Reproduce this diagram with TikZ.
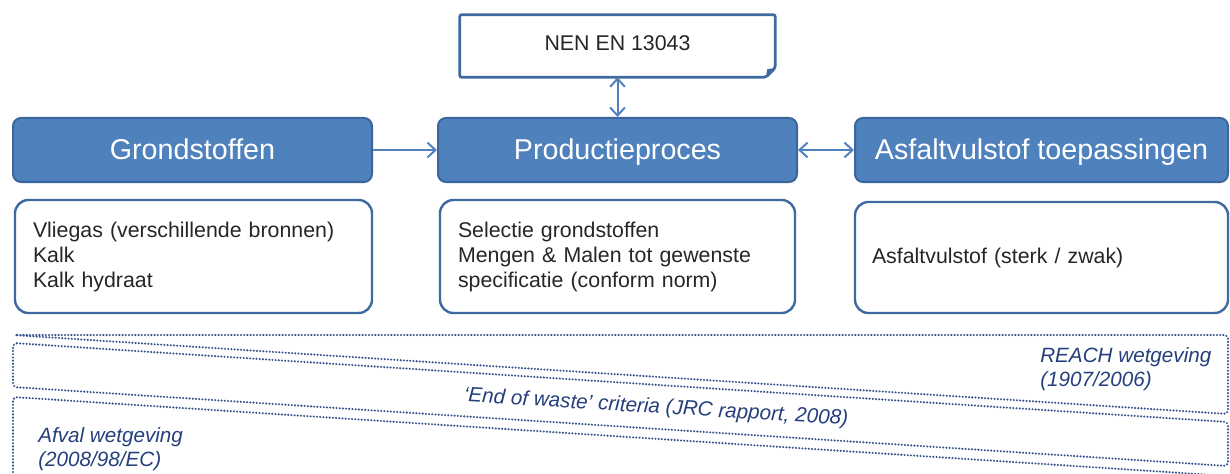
\documentclass[tikz,border=0pt]{standalone}
\usepackage{fontspec}
\setmainfont{Liberation Sans}
\usetikzlibrary{arrows.meta}

\definecolor{hdrfill}{HTML}{4F81BD}
\definecolor{hdrline}{HTML}{3A669D}
\definecolor{boxline}{HTML}{3E6A9F}
\definecolor{arrowc}{HTML}{5081BE}
\definecolor{dotc}{HTML}{36558F}
\definecolor{legaltext}{HTML}{243F7C}
\definecolor{bodytext}{HTML}{262626}

\begin{document}
\begin{tikzpicture}[x=0.75pt,y=-0.75pt,
  header/.style={rectangle, rounded corners=6pt, fill=hdrfill, draw=hdrline,
    line width=1.5pt, text=white, font=\fontsize{21.5}{26}\selectfont,
    text height=15.4pt, text depth=1pt,
    minimum height={64*0.75pt}, inner sep=0pt},
  detail/.style={rectangle, rounded corners=10pt, fill=white, draw=boxline,
    line width=1.8pt, text=bodytext, font=\fontsize{16}{18.75}\selectfont,
    align=left, inner ysep=0pt, inner xsep={18*0.75pt}},
  link/.style={draw=arrowc, line width=1.5pt,
    arrows={-Straight Barb[length=6pt,width=11pt]}},
  twoway/.style={link, arrows={Straight Barb[length=6pt,width=11pt]-Straight Barb[length=6pt,width=11pt]}},
  dotline/.style={draw=dotc, line width=1.75pt, dash pattern=on 0pt off 2.4pt,
    line cap=round, rounded corners=3pt},
  legal/.style={text=legaltext, font=\fontsize{15.5}{18}\selectfont\itshape,
    align=left, inner sep=0pt}
]
\clip (0,0) rectangle (1230,474);

% standard document at the top
\node[minimum width={315*0.75pt}, minimum height={62*0.75pt}, inner sep=0pt,
      text=bodytext, font=\fontsize{16}{18}\selectfont]
  (nen) at (617.5,46) {\raisebox{4pt}{NEN EN 13043}};
\draw[draw=boxline, line width=2pt, rounded corners=1.5pt]
  (nen.north west) -- (nen.north east) -- ([yshift=7pt]nen.south east)
  -- ([xshift=-7pt]nen.south east) -- (nen.south west) -- cycle;
\fill[boxline] ([yshift=7pt]nen.south east) -- ([xshift=-7pt]nen.south east)
  -- ([xshift=-6pt,yshift=6pt]nen.south east) -- cycle;

% process headers
\node[header, minimum width={359*0.75pt}] (grond) at (192.5,150) {Grondstoffen};
\node[header, minimum width={359*0.75pt}] (prod)  at (617.5,150) {Productieproces};
\node[header, minimum width={373*0.75pt}] (asf)   at (1041.5,150) {Asfaltvulstof toepassingen};

% detail boxes
\node[detail, text width={321*0.75pt}, minimum height={113*0.75pt}] (grondbox) at (193.5,256.5)
  {Vliegas (verschillende bronnen)\\Kalk\\Kalk hydraat};
\node[detail, text width={319*0.75pt}, minimum height={113*0.75pt}] (prodbox) at (617.5,256.5)
  {Selectie grondstoffen\\Mengen \& Malen tot gewenste\\specificatie (conform norm)};
\node[detail, text width={339*0.75pt}, inner xsep={17*0.75pt}, minimum height={111*0.75pt}] (asfbox) at (1041.5,257.5)
  {Asfaltvulstof (sterk / zwak)};

% connectors
\draw[twoway] (nen.south) -- (prod.north);
\draw[link] (grond.east) -- (prod.west);
\draw[twoway] (prod.east) -- (asf.west);

% legislation frames
\draw[dotline] (13,335) -- (1228,335) -- (1228,414) -- cycle;
\draw[dotline] (13,343) -- (1228,422) -- (1228,466) -- (13,387) -- cycle;
\draw[dotline] (13,520) -- (13,397) -- (1228,476);

\node[legal, anchor=west] (reach) at (1040,369) {REACH wetgeving\\(1907/2006)};
\node[legal, rotate=-3.5] (eow) at (656,408) {‘End of waste’ criteria (JRC rapport, 2008)};
\node[legal, anchor=west] (afval) at (38,449) {Afval wetgeving\\(2008/98/EC)};
\end{tikzpicture}
\end{document}
